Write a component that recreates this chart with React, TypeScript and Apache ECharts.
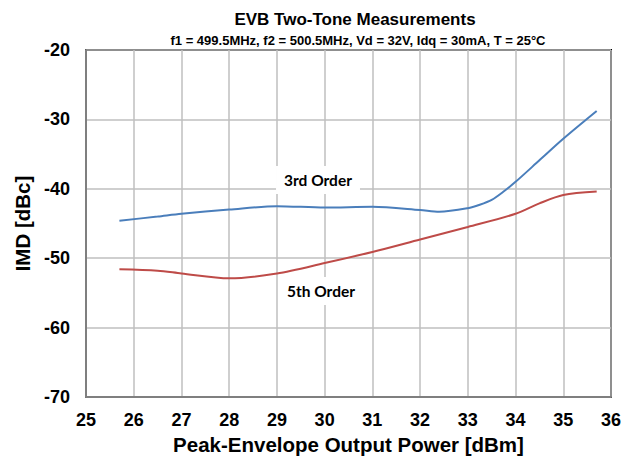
import React, { useEffect, useRef } from "react";
import * as echarts from "echarts";

const titleText = "EVB Two-Tone Measurements";
const subtitleText = "f1 = 499.5MHz, f2 = 500.5MHz, Vd = 32V, Idq = 30mA, T = 25°C";
const xAxisName = "Peak-Envelope Output Power [dBm]";
const yAxisName = "IMD [dBc]";

const thirdOrderX = [25.7, 26.5, 27, 28, 29, 30, 31, 32, 32.4, 33, 33.25, 33.5, 33.75, 34, 34.5, 35, 35.7];
const thirdOrderY = [-44.6, -44.0, -43.6, -43.0, -42.5, -42.7, -42.6, -43.05, -43.3, -42.8, -42.3, -41.6, -40.4, -39.0, -35.9, -32.8, -28.8];

const fifthOrderX = [25.7, 26.5, 27, 28, 29, 30, 31, 32, 33, 34, 34.5, 35, 35.7];
const fifthOrderY = [-51.6, -51.8, -52.2, -52.9, -52.2, -50.7, -49.1, -47.3, -45.5, -43.6, -42.1, -40.9, -40.4];

const seriesNames = ["3rd Order", "5th Order"];

export default function App() {
  const ref = useRef<HTMLDivElement>(null);
  useEffect(() => {
    if (!ref.current) return;
    const chart = echarts.init(ref.current, null, { renderer: "svg" });
    const labelStyle = {
      fontFamily: "Lato",
      fontWeight: "bold" as const,
      fontSize: 15.5,
      fill: "#000",
      backgroundColor: "#fff",
      padding: [6, 8, 6, 8],
      align: "center" as const,
      verticalAlign: "middle" as const,
    };
    chart.setOption({
      animation: false,
      backgroundColor: "#fff",
      title: [
        {
          text: titleText,
          left: 350,
          top: 6,
          textAlign: "center",
          textStyle: { fontFamily: "Liberation Sans", fontWeight: "bold", fontSize: 17, color: "#000" },
        },
        {
          text: subtitleText,
          left: 353,
          top: 29,
          textAlign: "center",
          textStyle: { fontFamily: "Liberation Sans", fontWeight: "bold", fontSize: 13, color: "#000" },
        },
      ],
      grid: {
        left: 86,
        right: 22,
        top: 50,
        bottom: 63,
        show: true,
        borderColor: "#000",
        borderWidth: 2,
        backgroundColor: "transparent",
      },
      xAxis: {
        type: "value",
        min: 25,
        max: 36,
        interval: 1,
        name: xAxisName,
        nameLocation: "middle",
        nameGap: 37,
        nameTextStyle: { fontFamily: "Liberation Sans", fontWeight: "bold", fontSize: 20.5, color: "#000" },
        axisLine: { show: true, lineStyle: { color: "#7f7f7f", width: 2 } },
        axisTick: { show: false },
        axisLabel: { fontFamily: "Liberation Sans", fontWeight: "bold", fontSize: 18, color: "#000", margin: 14 },
        splitLine: { show: true, lineStyle: { color: "#bfbfbf", width: 1.5 } },
      },
      yAxis: {
        type: "value",
        min: -70,
        max: -20,
        interval: 10,
        name: yAxisName,
        nameLocation: "middle",
        nameGap: 50,
        nameRotate: 90,
        nameTextStyle: { fontFamily: "Liberation Sans", fontWeight: "bold", fontSize: 20.5, color: "#000" },
        axisLine: { show: true, lineStyle: { color: "#7f7f7f", width: 2 } },
        axisTick: { show: false },
        axisLabel: { fontFamily: "Liberation Sans", fontWeight: "bold", fontSize: 18, color: "#000", margin: 16 },
        splitLine: { show: true, lineStyle: { color: "#bfbfbf", width: 1.5 } },
      },
      series: [
        {
          name: seriesNames[0],
          type: "line",
          smooth: 0.3,
          showSymbol: false,
          lineStyle: { color: "#4a7ebb", width: 2 },
          data: thirdOrderX.map((x, i) => [x, thirdOrderY[i]]),
          z: 3,
        },
        {
          name: seriesNames[1],
          type: "line",
          smooth: 0.3,
          showSymbol: false,
          lineStyle: { color: "#be4b48", width: 2 },
          data: fifthOrderX.map((x, i) => [x, fifthOrderY[i]]),
          z: 3,
        },
      ],
      graphic: [
        { type: "text", x: 318, y: 180, z: 10, style: { ...labelStyle, text: seriesNames[0] } },
        { type: "text", x: 321, y: 291, z: 10, style: { ...labelStyle, text: seriesNames[1] } },
      ],
    });
    return () => chart.dispose();
  }, []);
  return <div ref={ref} style={{ position: "fixed", left: 0, top: 0, width: 633, height: 460 }} />;
}
